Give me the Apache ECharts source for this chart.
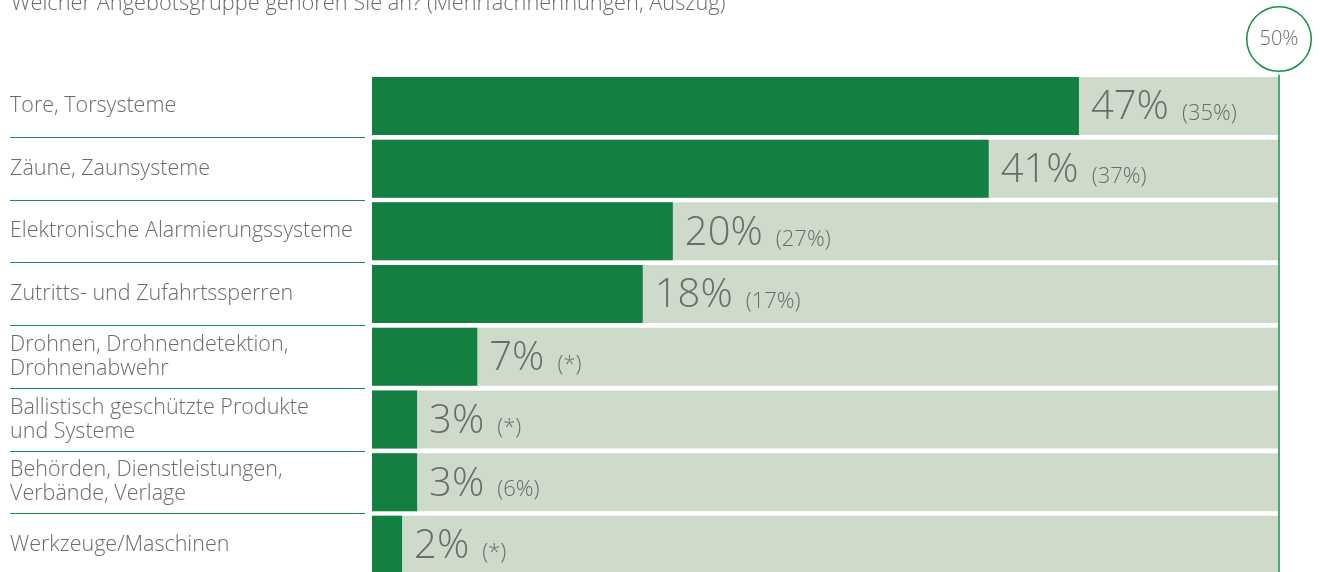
<!DOCTYPE html>
<html>
<head>
<meta charset="utf-8">
<script src="https://cdn.jsdelivr.net/npm/echarts@6/dist/echarts.min.js"></script>
<style>
  html, body { margin: 0; padding: 0; background: #fff; }
  #chart { width: 1320px; height: 572px; }
</style>
</head>
<body>
<div id="chart"></div>
<script>
const titleText = 'Welcher Angebotsgruppe gehören Sie an? (Mehrfachnennungen, Auszug)';
const categories = [
  'Tore, Torsysteme',
  'Zäune, Zaunsysteme',
  'Elektronische Alarmierungssysteme',
  'Zutritts- und Zufahrtssperren',
  'Drohnen, Drohnendetektion,\nDrohnenabwehr',
  'Ballistisch geschützte Produkte\nund Systeme',
  'Behörden, Dienstleistungen,\nVerbände, Verlage',
  'Werkzeuge/Maschinen'
];
const values = [47, 41, 20, 18, 7, 3, 3, 2];
const previousYear = ['35%', '37%', '27%', '17%', '*', '*', '6%', '*'];
const axisMax = 60.3;
const markerLabel = '50%';

const GREEN = '#137f40';
const PALE = '#cedbca';
const GREY = '#6b6b6b';
const LINE = '#1a8f4c';
const FONT = '"Open Sans", "Noto Sans", sans-serif';

const chart = echarts.init(document.getElementById('chart'));

const gridTop = 74.6;
const gridHeight = 501.6;

chart.setOption({
  animation: false,
  title: {
    text: titleText,
    left: 6,
    top: -12,
    textStyle: { fontFamily: FONT, fontSize: 21.8, fontWeight: 300, color: GREY }
  },
  grid: [
    { left: 372, right: 41, top: gridTop, height: gridHeight, outerBoundsMode: 'none' },
    { left: 10, width: 355, top: gridTop, height: gridHeight, outerBoundsMode: 'none' }
  ],
  xAxis: [
    { type: 'value', gridIndex: 0, min: 0, max: axisMax, show: false },
    { type: 'value', gridIndex: 1, min: 0, max: 1, show: false }
  ],
  yAxis: [
    {
      type: 'category',
      gridIndex: 0,
      data: categories,
      inverse: true,
      axisLine: { show: false },
      axisTick: { show: false },
      splitLine: { show: false },
      axisLabel: {
        align: 'left',
        margin: 362,
        fontFamily: FONT,
        fontSize: 21.5,
        fontWeight: 300,
        lineHeight: 24,
        padding: [7, 0, 0, 0],
        color: GREY
      }
    },
    {
      type: 'category',
      gridIndex: 1,
      data: categories,
      inverse: true,
      axisLine: { show: false },
      axisTick: { show: false },
      axisLabel: { show: false },
      splitLine: {
        show: true,
        interval: (index) => index > 0,
        lineStyle: { color: LINE, width: 1.2 }
      }
    }
  ],
  series: [
    {
      type: 'bar',
      xAxisIndex: 0,
      yAxisIndex: 0,
      data: values,
      barWidth: 58,
      clip: false,
      itemStyle: { color: GREEN },
      showBackground: true,
      backgroundStyle: { color: PALE },
      label: {
        show: true,
        position: 'right',
        distance: 12,
        formatter: (p) => '{a|' + p.value + '%}{b|(' + previousYear[p.dataIndex] + ')}',
        rich: {
          a: { fontFamily: FONT, fontSize: 40, fontWeight: 300, color: GREY, verticalAlign: 'bottom', lineHeight: 44 },
          b: { fontFamily: FONT, fontSize: 22, fontWeight: 300, color: GREY, verticalAlign: 'bottom', lineHeight: 44, padding: [0, 0, 3, 13] }
        }
      },
      markLine: {
        silent: true,
        symbol: 'none',
        lineStyle: { color: LINE, width: 1.5, type: 'solid' },
        data: [{ xAxis: axisMax }],
        label: {
          show: true,
          position: 'start',
          distance: 4,
          formatter: markerLabel,
          fontFamily: FONT,
          fontSize: 20,
          fontWeight: 300,
          color: GREY,
          width: 63,
          height: 63,
          lineHeight: 63,
          align: 'center',
          borderColor: LINE,
          borderWidth: 1.5,
          borderRadius: 32,
          backgroundColor: '#fff'
        }
      }
    }
  ]
});
</script>
</body>
</html>
